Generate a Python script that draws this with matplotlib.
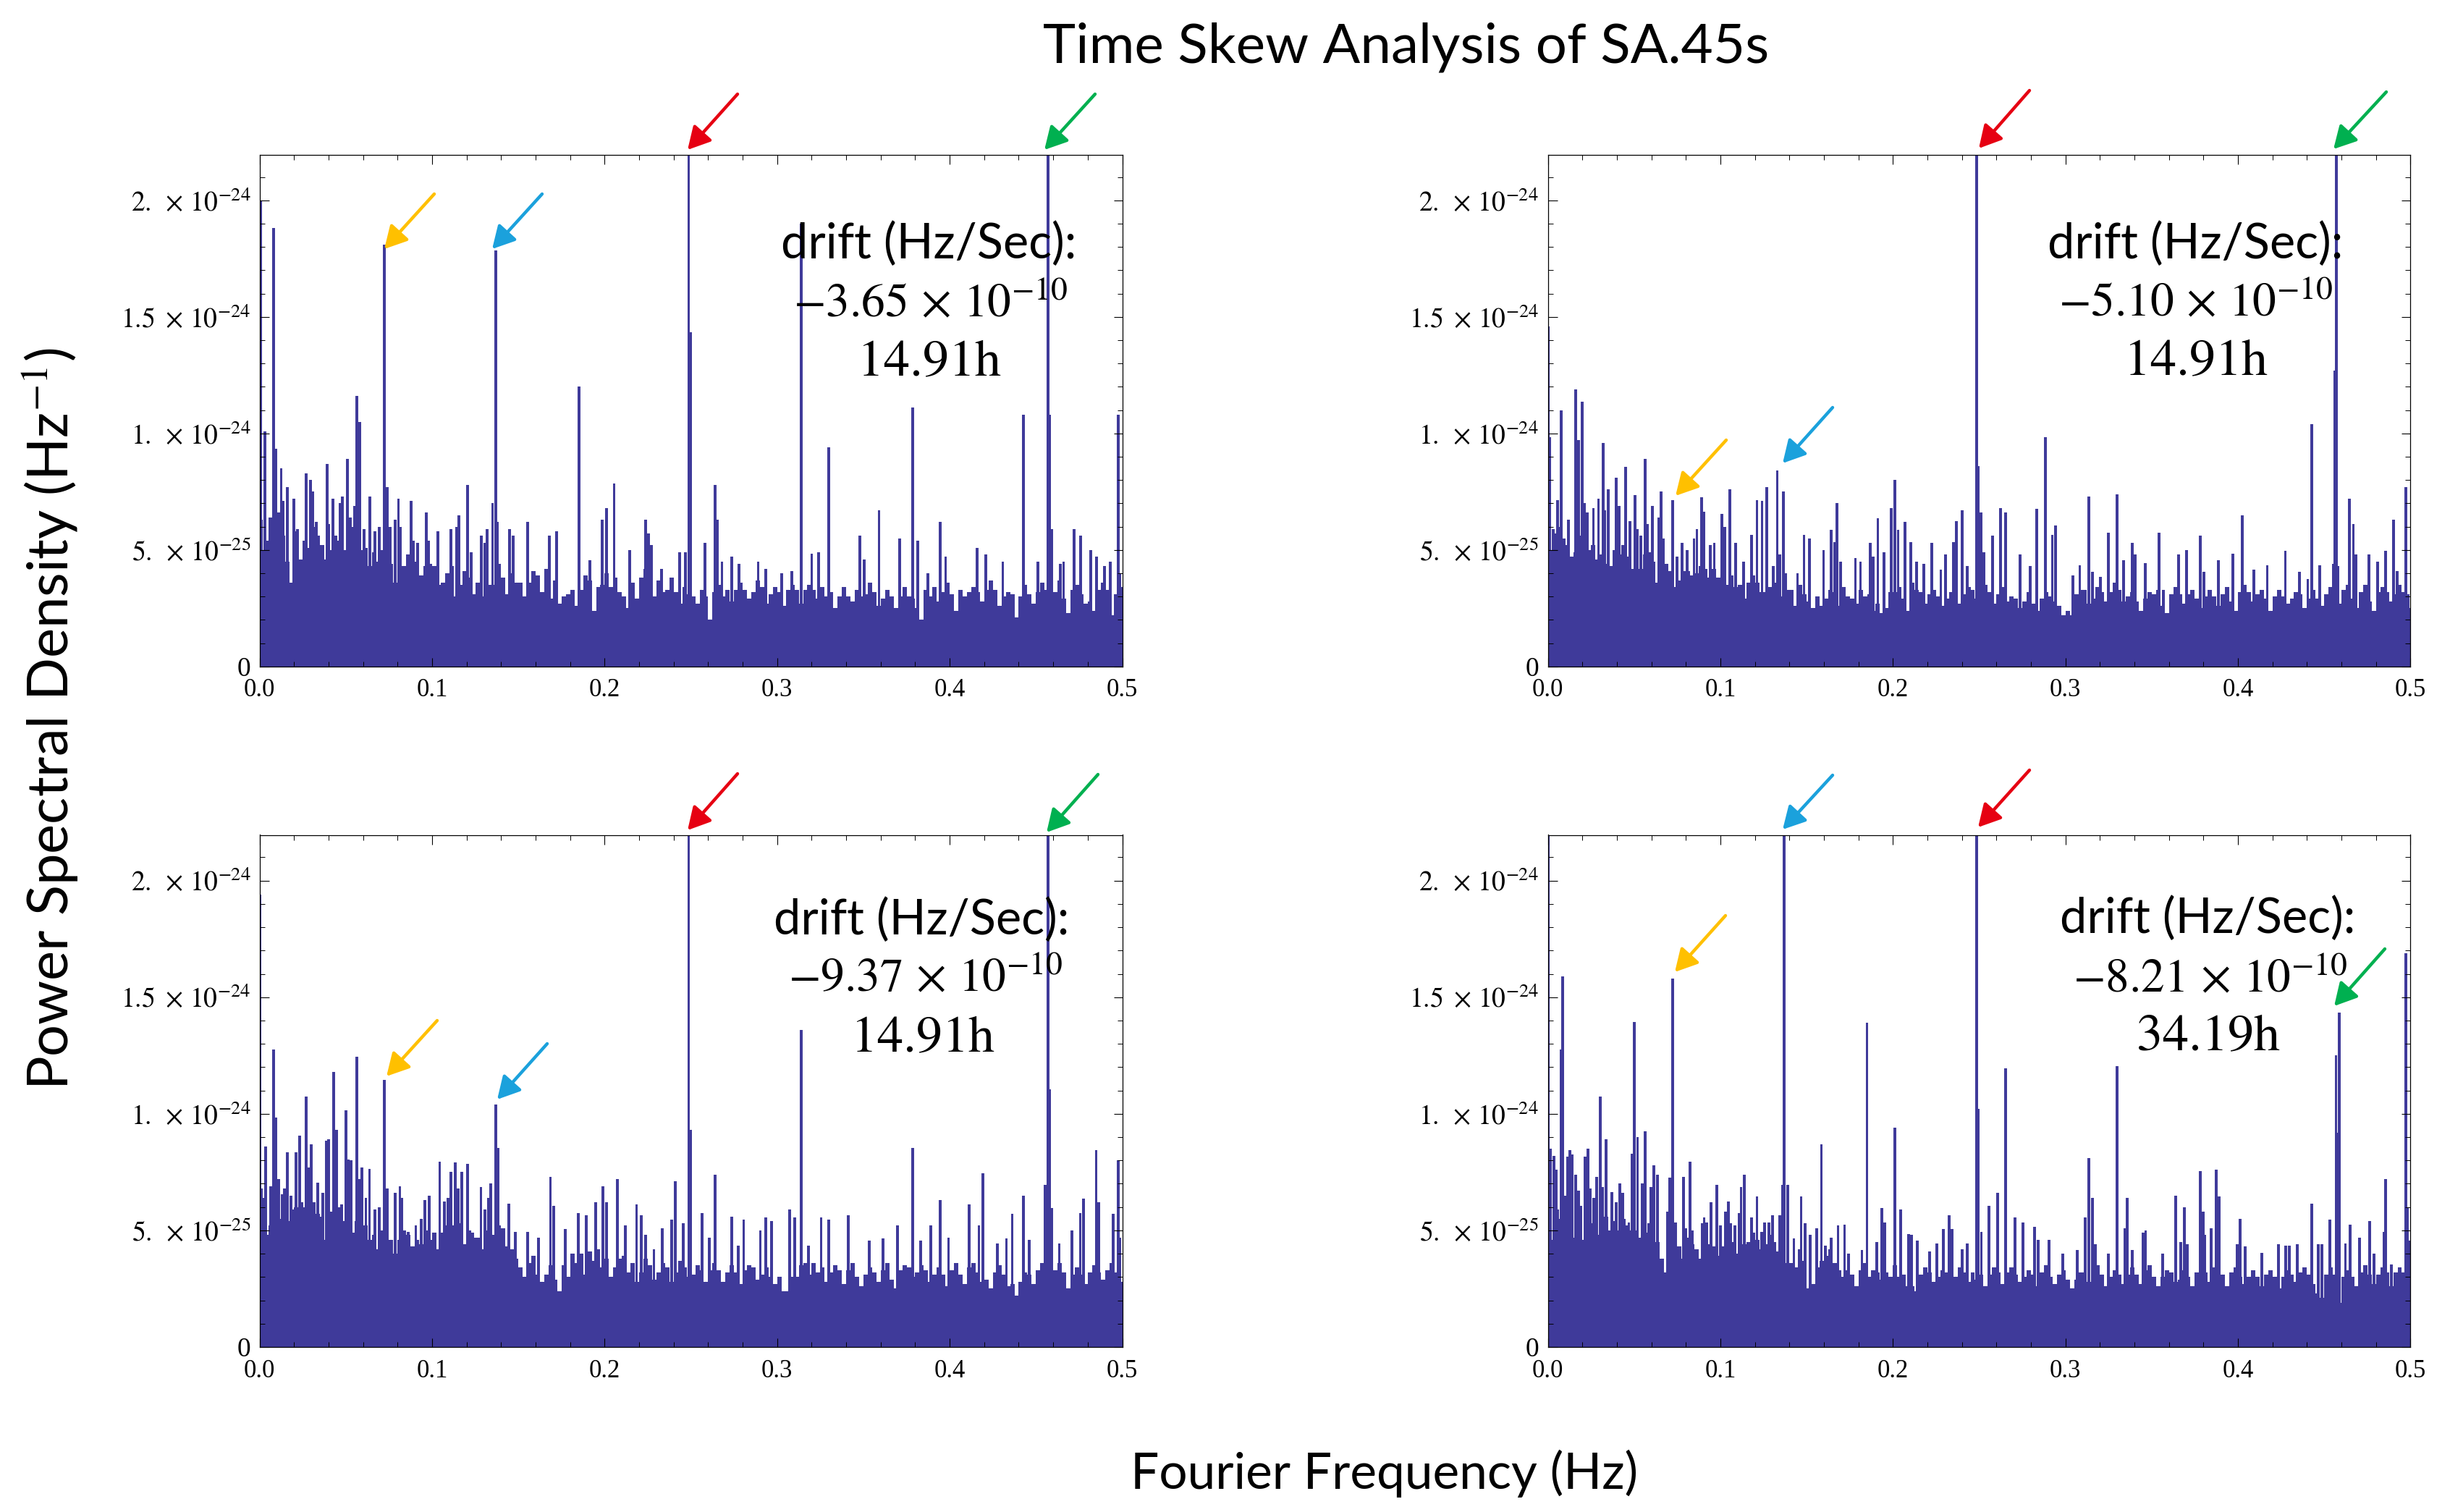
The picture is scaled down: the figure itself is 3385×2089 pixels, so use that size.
import numpy as np
import matplotlib
matplotlib.use("Agg")
import matplotlib.pyplot as plt
from matplotlib.patches import FancyArrowPatch

W, H = 3385, 2089

# PSD values below are in units of 1e-25 Hz^-1
# top edge of the dense band, one value per 0.0025 Hz
floor_a = [5.0,5.4,6.4,6.7,6.6,5.6,4.5,3.6,5.8,4.6,5.4,5.1,6.0,5.6,5.2,4.6,5.0,5.6,5.4,5.0,
           5.5,6.0,5.4,5.0,5.1,4.3,4.9,4.5,5.0,4.8,4.4,3.6,4.6,4.3,4.8,4.0,4.5,3.9,4.3,4.4,
           4.3,3.5,3.6,4.0,4.3,3.0,3.5,4.1,3.8,3.1,3.6,3.0,4.0,3.5,3.5,4.4,3.8,3.1,4.0,3.6,
           3.6,3.0,3.6,4.1,3.9,3.2,4.2,2.9,3.7,2.7,3.0,3.1,3.3,2.6,3.3,3.9,3.7,2.4,3.4,3.5,
           4.0,3.4,3.8,3.2,3.0,2.5,3.6,2.9,3.8,4.2,3.5,3.0,3.7,3.2,3.3,3.8,3.2,2.7,3.4,3.1,
           3.0,2.7,3.3,3.0,2.0,3.2,3.5,3.0,3.3,2.8,3.3,3.6,3.3,2.9,3.2,3.7,3.4,2.7,3.1,3.4,
           3.2,2.6,3.3,3.5,3.3,2.7,3.3,3.5,3.3,2.9,3.4,3.0,3.2,2.5,3.0,3.4,3.0,2.8,3.3,3.0,
           3.1,3.6,3.2,2.6,2.9,3.3,3.0,2.5,3.0,3.4,3.0,2.9,2.5,2.0,3.3,3.0,3.4,2.8,3.2,3.6,
           3.1,2.4,3.3,3.0,3.2,3.4,3.2,2.8,3.3,3.7,3.3,2.6,3.0,3.2,3.1,2.1,3.0,3.5,3.1,2.7,
           3.2,3.6,3.3,2.8,3.2,3.7,2.9,2.3,3.3,3.5,3.1,2.7,2.8,2.4,3.3,3.6,3.3,2.2,3.1,3.4]
floor_b = [5.0,5.7,6.0,5.4,5.2,4.7,4.9,5.6,5.3,5.0,5.2,4.6,4.8,4.4,4.3,5.0,4.8,5.2,4.7,4.2,
           4.6,4.2,4.8,4.9,4.5,3.6,3.9,4.4,4.1,3.4,3.7,4.1,4.1,3.9,4.0,4.3,4.2,3.8,4.2,3.8,
           3.8,3.5,3.9,3.4,3.5,2.9,3.6,3.9,3.6,3.2,3.2,3.4,3.6,3.1,3.0,3.3,3.3,2.6,3.5,3.1,
           2.8,2.5,3.0,2.6,2.9,3.3,3.2,2.6,3.4,3.0,2.9,2.7,3.3,3.0,3.1,2.4,2.7,2.3,2.5,3.2,
           3.2,3.4,2.9,2.4,3.6,3.3,3.2,2.7,3.1,3.3,3.0,2.6,2.9,3.2,3.0,2.7,3.1,3.4,3.3,2.9,
           3.0,3.5,3.2,2.7,3.1,3.4,2.8,3.0,2.9,2.5,2.8,3.2,2.7,2.4,2.9,3.2,3.0,2.8,2.6,2.2,
           2.4,2.2,3.1,3.3,3.3,2.7,2.9,3.4,3.2,2.8,3.2,3.6,3.3,2.8,3.0,3.2,2.8,2.4,2.9,3.2,
           3.1,3.3,2.6,2.3,3.1,3.4,3.1,2.7,3.1,3.3,2.9,2.5,3.0,3.3,3.0,2.6,3.1,3.4,2.8,2.4,
           3.2,3.5,3.2,2.8,3.1,3.3,2.9,2.4,3.0,3.3,3.0,2.7,2.9,3.2,3.1,2.5,2.9,3.3,2.9,2.6,
           3.1,3.4,3.1,2.7,3.3,3.5,2.9,2.5,3.2,3.5,2.8,2.4,3.2,3.4,3.2,2.8,3.1,3.5,3.2,2.5]
floor_c = [5.2,4.8,5.2,5.6,5.5,5.0,5.4,5.9,6.0,5.6,6.0,5.4,6.2,5.7,5.6,4.6,5.8,5.2,6.0,5.4,
           5.8,4.9,5.4,5.0,5.2,4.6,4.8,4.2,5.0,4.5,4.6,4.0,4.6,5.0,4.8,4.3,4.6,4.4,5.0,4.6,
           4.9,4.2,4.9,5.2,5.2,4.6,5.3,4.4,5.0,4.7,4.7,4.2,5.0,4.5,4.8,5.2,5.1,4.3,4.2,3.8,
           3.4,3.0,3.6,3.9,3.1,2.8,3.1,3.5,2.9,2.4,3.5,3.0,4.0,3.6,4.0,3.1,4.1,3.7,4.2,3.4,
           3.8,3.0,3.4,3.8,3.9,3.2,3.6,2.8,3.2,3.8,3.5,2.9,3.2,3.6,3.4,2.8,3.2,3.7,3.4,3.0,
           3.1,3.5,3.3,2.8,3.3,3.6,3.3,2.8,3.2,3.5,3.2,2.7,3.3,3.5,3.4,2.9,3.1,3.4,3.0,2.7,
           3.0,2.4,2.4,3.0,3.0,3.5,3.6,3.1,3.6,3.2,3.4,2.8,3.2,3.5,3.3,2.7,3.3,3.6,3.0,2.6,
           3.1,3.4,3.2,2.8,3.3,3.6,2.9,2.5,3.3,3.5,3.4,3.0,3.2,3.5,3.3,2.8,3.1,3.4,3.1,2.6,
           3.3,3.6,3.1,2.7,3.4,3.6,3.2,2.8,2.9,2.5,3.2,3.5,3.1,2.6,2.7,2.2,2.8,3.2,3.1,2.7,
           3.3,3.6,3.1,2.6,3.3,3.6,3.2,2.5,3.1,3.4,3.1,2.7,3.2,3.5,3.2,2.9,3.3,3.6,3.2,2.8]
floor_d = [5.0,4.6,5.5,5.0,5.3,4.7,4.7,4.2,4.6,5.2,5.3,4.8,5.3,5.6,5.0,5.4,5.0,5.5,5.2,5.0,
           5.0,4.7,4.9,5.3,4.9,4.5,3.8,3.2,3.6,3.5,4.3,3.8,4.7,4.4,4.2,3.8,3.9,4.4,4.3,3.9,
           4.3,3.6,4.5,4.0,4.7,4.4,4.5,4.9,4.6,4.2,4.4,4.8,4.5,4.1,4.1,3.6,3.6,3.4,4.2,3.7,
           2.5,2.7,3.4,3.7,3.9,4.2,3.6,3.3,3.0,3.3,3.1,2.6,3.3,3.6,3.0,3.3,3.2,2.9,3.2,3.0,
           3.5,3.0,3.1,2.6,2.6,2.4,3.1,3.4,3.2,2.8,3.0,3.3,3.2,2.6,3.0,3.4,3.2,2.8,3.2,2.9,
           3.1,2.6,3.1,3.4,3.2,2.7,3.2,3.4,3.1,2.8,3.0,3.3,3.1,2.6,3.2,3.5,3.0,2.7,3.1,3.3,
           2.9,2.5,2.9,3.2,3.2,2.8,3.2,3.5,3.1,2.6,3.0,3.3,3.1,2.7,3.1,3.4,3.1,2.7,3.3,3.5,
           3.0,2.6,3.0,3.3,3.2,2.8,2.9,3.3,3.0,2.6,3.2,3.5,3.2,2.8,3.4,3.7,3.1,2.6,3.2,3.4,
           3.0,2.7,3.0,3.3,3.0,2.6,3.1,3.3,3.0,2.5,3.0,3.3,3.1,2.8,3.2,3.4,3.1,2.7,2.3,2.1,
           3.1,3.4,3.1,1.9,3.0,3.3,3.0,2.6,3.2,3.5,3.1,2.7,3.1,3.4,3.2,2.6,3.2,3.4,3.2,2.9]

# spikes standing above the band
peak_f_a = [.0005,.001,.003,.008,.0095,.0125,.0135,.016,.020,.022,.027,.0295,.031,.033,.039,.040,.0425,.0465,.048,.051,
            .0525,.055,.0565,.058,.0605,.064,.067,.0695,.0723,.0738,.0755,.0787,.0805,.0817,.0877,.089,.0915,.0965,.098,.1033,
            .111,.114,.1155,.1205,.1225,.1285,.1305,.132,.135,.1369,.1378,.145,.147,.1555,.168,.172,.185,.1915,.1985,.201,
            .2055,.2145,.2236,.2254,.227,.233,.2436,.2468,.2487,.2498,.258,.2639,.2654,.268,.2735,.278,.289,.2935,.3025,.3085,
            .314,.32,.324,.3298,.348,.3506,.359,.371,.3784,.3815,.3875,.3944,.3976,.4158,.4208,.4308,.4426,.451,.457,.458,
            .459,.464,.466,.472,.476,.4817,.485,.4897,.493,.4976,.4986]
peak_v_a = [20.0,6.3,10.1,18.8,9.35,8.5,7.1,7.7,7.2,5.9,8.3,8.0,7.5,6.2,8.7,6.1,7.2,7.0,7.3,8.9,
            6.4,6.9,11.6,10.5,5.9,7.3,5.8,6.0,18.1,7.7,6.0,6.3,7.2,6.0,7.1,5.4,5.3,6.6,5.4,5.8,
            5.9,6.0,6.5,7.8,4.9,5.6,5.3,5.9,7.0,17.85,6.2,5.9,5.6,6.2,5.6,5.8,12.0,4.55,6.3,6.8,
            7.85,5.0,6.3,5.7,5.2,4.2,4.9,4.9,22.0,14.35,5.3,7.8,6.3,4.5,4.7,4.4,4.5,4.2,4.0,4.1,
            19.0,4.85,4.9,9.4,5.6,4.6,6.7,5.5,11.1,5.4,4.0,6.2,4.7,5.1,4.8,4.5,10.8,4.5,22.0,10.8,
            5.9,4.4,4.5,5.9,5.6,5.0,4.7,4.3,4.5,10.8,4.0]

peak_f_b = [.0003,.0012,.003,.0056,.0077,.0094,.0118,.016,.0177,.0198,.0212,.023,.0264,.0294,.032,.033,.035,.0398,.0412,.0452,
            .0475,.0504,.052,.054,.0563,.0576,.0605,.0642,.0656,.067,.0722,.0748,.0777,.0807,.0847,.0864,.089,.0903,.0943,.0965,
            .1009,.1026,.1054,.1087,.1134,.1181,.1212,.1242,.127,.1308,.133,.1344,.1367,.1377,.1447,.1485,.1517,.1598,.1642,.1664,
            .1675,.1696,.1783,.1812,.1868,.1887,.1913,.1948,.1991,.201,.203,.207,.2104,.2137,.218,.2224,.2278,.2304,.2351,.2369,
            .2402,.243,.2485,.2496,.2511,.2526,.2579,.2623,.2654,.2737,.2795,.2834,.2883,.2924,.2942,.3043,.3083,.3136,.3157,.3204,
            .3248,.33,.3336,.3386,.3404,.3463,.3541,.3569,.3657,.3701,.3782,.3804,.3886,.3972,.4025,.4091,.417,.4275,.4357,.4405,
            .4429,.4475,.4555,.457,.4561,.458,.4645,.4669,.4683,.4759,.4808,.4856,.4903,.4924,.4973,.4986]
peak_v_b = [14.6,9.85,5.9,7.15,11.0,5.5,6.3,11.9,9.7,11.35,7.0,6.6,6.8,7.2,9.6,6.7,7.6,8.1,6.9,8.55,
            6.25,7.35,5.9,5.6,8.9,6.1,6.9,6.4,7.5,5.5,7.15,4.7,5.3,5.0,5.5,5.9,7.25,6.65,5.2,5.3,
            6.55,6.0,7.6,5.3,4.5,5.65,7.15,7.1,7.7,4.3,8.4,4.8,7.5,4.0,4.0,5.65,5.5,5.0,5.85,5.35,
            7.0,4.5,4.65,4.5,5.3,4.7,6.35,4.9,6.8,8.0,5.85,6.2,5.35,4.5,4.4,5.3,4.15,4.8,5.35,6.25,
            6.7,4.3,22.0,8.6,6.6,4.9,5.6,6.8,6.6,4.8,4.3,6.75,9.85,5.65,6.05,3.9,4.35,7.3,4.05,3.85,
            5.75,7.4,4.55,5.3,4.8,4.45,5.75,3.3,4.8,5.0,5.6,4.05,4.55,4.85,6.5,4.15,4.35,4.95,4.05,3.75,
            10.4,4.35,4.4,22.0,12.7,4.3,7.2,6.1,4.8,4.8,4.5,4.95,6.3,4.1,7.7,3.1]

peak_f_c = [.0003,.001,.0024,.0034,.005,.0064,.0081,.0094,.0111,.013,.0145,.016,.018,.021,.0233,.0246,.027,.0284,.03,.032,
            .0338,.0366,.0387,.04,.0428,.0447,.0475,.05,.0513,.053,.0565,.058,.0593,.0616,.0637,.067,.0695,.0723,.074,.0787,
            .0813,.0826,.0862,.0905,.0937,.0958,.0984,.1044,.107,.1091,.1108,.1134,.1151,.1172,.1204,.1236,.1283,.1305,.1326,.1341,
            .1369,.138,.139,.1444,.1482,.1553,.1615,.1686,.1703,.1771,.1846,.1893,.1947,.1989,.2011,.2075,.2121,.2185,.2211,.2236,
            .2286,.2335,.2388,.241,.2457,.2487,.2498,.2566,.2607,.2639,.2735,.2774,.2806,.2902,.2934,.2966,.3073,.3103,.314,.3181,
            .3255,.3298,.3413,.3533,.3613,.3698,.3784,.3833,.3891,.3944,.3993,.4111,.4169,.4192,.4278,.4329,.4362,.4426,.4462,.4554,
            .457,.458,.4593,.4635,.4708,.4757,.4774,.4849,.4864,.4946,.4976,.4986]
peak_v_c = [19.4,6.8,6.4,8.6,4.65,6.9,12.75,9.85,7.2,6.55,6.8,8.35,6.5,8.35,9.05,6.2,10.75,7.7,8.7,5.5,
            7.05,6.6,8.85,8.9,11.8,9.3,6.1,10.15,8.05,8.0,12.45,7.2,7.7,6.4,7.65,5.9,6.0,11.45,6.8,6.6,
            6.9,6.4,4.95,5.2,5.5,6.3,6.5,7.95,6.25,6.4,7.5,7.9,6.8,7.5,7.85,4.9,6.85,5.9,6.4,7.0,
            10.4,8.55,5.05,6.15,4.95,4.95,4.7,7.3,6.05,5.05,5.75,5.65,6.2,6.9,6.2,7.2,5.2,6.1,5.65,4.8,
            4.2,5.1,5.45,7.1,5.3,22.0,9.3,5.75,4.7,7.4,5.6,4.35,5.45,5.0,5.55,5.4,5.9,5.55,13.6,4.35,
            5.55,5.45,5.65,4.55,4.65,5.2,8.55,4.55,5.2,6.3,4.7,6.1,5.2,7.45,4.45,4.65,5.7,6.5,4.6,6.95,
            22.0,11.05,5.95,4.45,5.0,5.75,6.35,8.45,6.2,5.7,8.0,4.7]

peak_f_d = [.0003,.0017,.0035,.0047,.0056,.0077,.0085,.0101,.0117,.0129,.0139,.0162,.0177,.0191,.0216,.0233,.0247,.0268,.0283,.0303,
            .0317,.0337,.037,.0395,.0417,.0433,.047,.049,.0503,.052,.0548,.0563,.0597,.0614,.0637,.0694,.0708,.0722,.0741,.0788,
            .08,.0823,.0838,.0894,.0906,.092,.0946,.0981,.1,.1029,.1047,.1061,.1083,.1108,.112,.1139,.1181,.1212,.1238,.1256,
            .1282,.1304,.1343,.136,.1369,.139,.1426,.1468,.149,.152,.1557,.1586,.1609,.1643,.1682,.172,.1743,.1821,.185,.1908,
            .1937,.1953,.201,.2045,.209,.2108,.2143,.2212,.2256,.2294,.2325,.2343,.24,.243,.2485,.2496,.2513,.2557,.2608,.2654,
            .2707,.2755,.2821,.2841,.2904,.2984,.307,.3116,.3136,.3157,.3175,.3248,.33,.3345,.3358,.3386,.3452,.3465,.3565,.3639,
            .3668,.3688,.3706,.3782,.3798,.3809,.3844,.3873,.389,.3996,.4014,.4042,.4137,.4235,.4276,.4298,.4344,.4429,.4464,.4488,
            .4531,.4568,.4577,.4588,.4623,.465,.4705,.4762,.4788,.4845,.4856,.4889,.4973,.498,.4991]
peak_v_d = [22.0,8.5,8.2,7.6,5.9,12.75,15.9,6.5,8.15,8.45,8.25,7.4,6.7,6.05,8.15,8.5,6.8,6.4,7.3,10.75,
            6.85,8.9,6.65,6.2,7.0,6.6,5.35,8.3,13.95,9.0,7.0,9.25,6.85,7.8,7.4,5.8,7.25,15.8,5.35,7.3,
            5.1,7.95,5.0,5.3,5.55,5.35,6.2,6.95,5.2,5.8,6.25,5.3,5.2,5.75,6.85,7.4,5.55,6.45,4.95,5.35,
            5.35,5.65,5.65,6.95,22.0,6.95,4.65,6.45,5.3,4.8,5.1,8.7,4.35,4.7,5.2,5.25,4.0,4.15,13.9,4.5,
            5.95,5.35,9.4,5.9,4.85,4.8,4.55,4.1,4.45,5.05,5.65,5.05,4.2,4.45,22.0,10.2,4.95,6.05,6.6,11.95,
            5.55,5.35,5.15,4.6,4.6,4.0,4.15,5.55,8.1,6.4,4.4,4.0,12.05,5.1,6.4,4.15,4.9,5.0,4.0,6.5,
            4.5,6.0,4.4,7.55,5.8,4.8,5.1,7.6,6.45,4.4,5.5,4.3,4.05,4.4,4.35,4.35,4.4,6.15,4.4,4.4,
            5.45,12.5,9.2,14.35,4.45,5.25,4.7,5.4,4.0,4.95,7.2,3.55,16.9,6.0,4.55]

floors = [floor_a, floor_b, floor_c, floor_d]
peak_freqs = [peak_f_a, peak_f_b, peak_f_c, peak_f_d]
peak_psds = [peak_v_a, peak_v_b, peak_v_c, peak_v_d]

drifts = ["-3.65", "-5.10", "-9.37", "-8.21"]
periods = ["14.91h", "14.91h", "14.91h", "34.19h"]

x_major = [0.0, 0.1, 0.2, 0.3, 0.4, 0.5]
y_major = [0, 5e-25, 1e-24, 1.5e-24, 2e-24]
y_labels = ["0", r"$5.\ \times\,10^{-25}$", r"$1.\ \times\,10^{-24}$", r"$1.5\ \times\,10^{-24}$", r"$2.\ \times\,10^{-24}$"]

BAR = "#3f3a9a"
GOLD, BLUE, RED, GREEN = "#ffc000", "#1ba1dc", "#e60012", "#00b050"

plt.rcParams["font.family"] = ["Liberation Serif", "DejaVu Sans"]
plt.rcParams["mathtext.fontset"] = "stix"


def fx(px):
    return px / W


def fy(py):
    return 1 - py / H


fig = plt.figure(figsize=(W / 100, H / 100), dpi=100, facecolor="white")

# left, right, top, bottom of each panel in picture pixels
boxes = [(358.7, 1550.5, 213.7, 920.8), (2138.5, 3330.4, 213.7, 920.8),
         (358.7, 1550.5, 1153.5, 1861.0), (2138.5, 3330.4, 1153.5, 1861.0)]

for i, (l, r, t, b) in enumerate(boxes):
    ax = fig.add_axes([fx(l), fy(b), (r - l) / W, (b - t) / H])
    edges = np.arange(len(floors[i])) * 0.0025
    ax.bar(edges, np.array(floors[i]) * 1e-25, width=0.0025, align="edge", color=BAR, linewidth=0)
    ax.bar(peak_freqs[i], np.array(peak_psds[i]) * 1e-25, width=0.0016, color=BAR, linewidth=0)
    ax.set_xlim(0, 0.5)
    ax.set_ylim(0, 2.196e-24)
    ax.set_xticks(x_major)
    ax.set_xticklabels([f"{v:.1f}" for v in x_major], fontsize=25)
    ax.set_xticks(np.arange(0, 0.501, 0.02), minor=True)
    ax.set_yticks(y_major)
    ax.set_yticklabels(y_labels, fontsize=27)
    ax.set_yticks(np.arange(0, 2.2e-24, 1e-25), minor=True)
    ax.tick_params(which="major", direction="in", top=True, right=True, length=9, width=0.8)
    ax.tick_params(which="minor", direction="in", top=True, right=True, length=5, width=0.7)
    ax.tick_params(axis="x", which="major", pad=12)
    ax.tick_params(axis="y", which="major", pad=9)
    for s in ax.spines.values():
        s.set_linewidth(0.9)

# (tail x, tail y, tip x, tip y, colour) in picture pixels
arrows = [(600, 268, 531, 344, GOLD), (749, 268, 680, 344, BLUE), (1019, 130, 950, 207, RED), (1513, 130, 1443, 207, GREEN),
          (2385, 608, 2315, 685, GOLD), (2532, 563, 2463, 640, BLUE), (2804, 125, 2734, 205, RED), (3297, 127, 3224, 206, GREEN),
          (604, 1410, 534, 1487, GOLD), (756, 1442, 687, 1519, BLUE), (1019, 1069, 950, 1147, RED), (1517, 1070, 1446, 1150, GREEN),
          (2384, 1265, 2314, 1343, GOLD), (2532, 1071, 2463, 1146, BLUE), (2804, 1064, 2733, 1143, RED), (3295, 1311, 3225, 1390, GREEN)]
for x0, y0, x1, y1, c in arrows:
    fig.add_artist(FancyArrowPatch((fx(x0), fy(y0)), (fx(x1), fy(y1)), transform=fig.transFigure,
                                   arrowstyle="-|>,head_length=0.55,head_width=0.3", mutation_scale=34,
                                   color=c, linewidth=3.2, shrinkA=0, shrinkB=0, zorder=5))

# text block positions: centre x and the y of each of the three lines
notes = [(1283, 1286, 1284, 338, 421, 502), (3033, 3034, 3034, 338, 420, 501),
         (1273, 1279, 1275, 1272, 1353, 1436), (3050, 3054, 3051, 1270, 1354, 1434)]
for i, (x0, x1, x2, y0, y1, y2) in enumerate(notes):
    fig.text(fx(x0), fy(y0), "drift (Hz/Sec):", family="Lato", fontsize=48, ha="center", va="center", zorder=6)
    fig.text(fx(x1), fy(y1), "$" + drifts[i] + r"\,\times\,10^{-10}$", fontsize=47, ha="center", va="center", zorder=6)
    fig.text(fx(x2), fy(y2), "$\\mathrm{" + periods[i] + "}$", fontsize=52, ha="center", va="center", zorder=6)

fig.text(fx(1943), fy(65), "Time Skew Analysis of SA.45s", family="Lato", fontsize=55, ha="center", va="center")
fig.text(fx(1913), fy(2036), "Fourier Frequency (Hz)", family="Lato", fontsize=50, ha="center", va="center")
fig.text(fx(69), fy(993), r"Power Spectral Density (Hz$^{-1}$)", family="Lato", fontsize=56,
         rotation=90, ha="center", va="center")

fig.savefig("out.png", dpi=100)
